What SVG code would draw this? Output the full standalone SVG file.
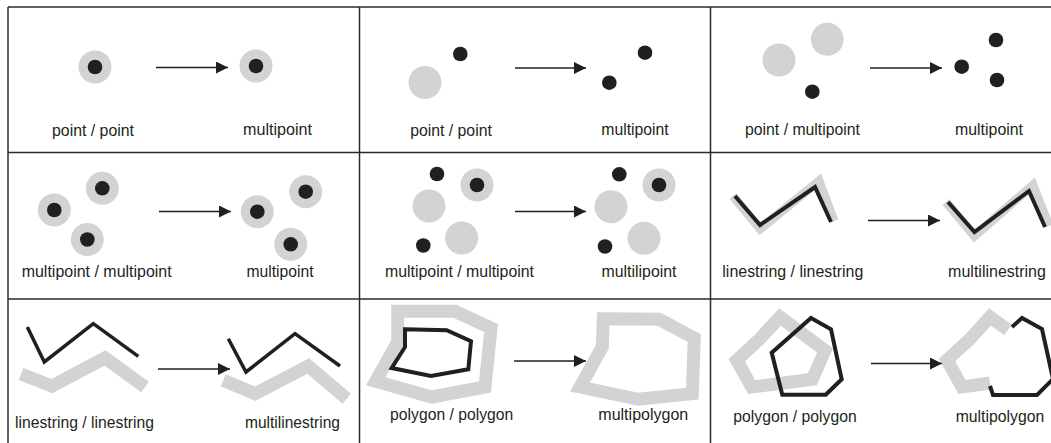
<svg xmlns="http://www.w3.org/2000/svg" width="1051" height="443" viewBox="0 0 1051 443">
<defs>
<style>
.g{fill:#d1d3d4}
.k{fill:#231f20}
.gs{fill:none;stroke:#d1d3d4;stroke-linejoin:miter;stroke-linecap:butt}
.ks{fill:none;stroke:#231f20;stroke-linejoin:miter;stroke-linecap:butt}
.grid{stroke:#2b2b2b;stroke-width:1.5;fill:none}
.arr{stroke:#231f20;stroke-width:1.3;fill:none;marker-end:url(#ah)}
text{font-family:"Liberation Sans",Arial,sans-serif;font-size:17px;fill:#231f20;text-anchor:middle}
</style>
<marker id="ah" markerUnits="userSpaceOnUse" markerWidth="13" markerHeight="13" refX="12" refY="6" orient="auto">
<path d="M0,0 L12,6 L0,12 z" fill="#231f20"/>
</marker>
</defs>
<rect width="1051" height="443" fill="#fff"/>
<g id="grid" class="grid">
<line x1="8" y1="7" x2="1051" y2="7"/>
<line x1="8" y1="152.5" x2="1051" y2="152.5"/>
<line x1="8" y1="299" x2="1051" y2="299"/>
<line x1="8" y1="7" x2="8" y2="443"/>
<line x1="359.5" y1="7" x2="359.5" y2="443"/>
<line x1="710.5" y1="7" x2="710.5" y2="443"/>
</g>
<g id="cell1">
<circle class="g" cx="95" cy="67" r="16.5"/><circle class="k" cx="95" cy="67" r="7.3"/>
<circle class="g" cx="256" cy="66" r="16.5"/><circle class="k" cx="256" cy="66" r="7.3"/>
<text x="93" y="136" textLength="82" lengthAdjust="spacingAndGlyphs">point / point</text>
<text x="277.5" y="135" textLength="69" lengthAdjust="spacingAndGlyphs">multipoint</text>
</g>
<g id="cell2">
<circle class="g" cx="425" cy="82.5" r="16.5"/>
<circle class="k" cx="460.3" cy="54" r="7.3"/>
<circle class="k" cx="645" cy="52.7" r="7.3"/>
<circle class="k" cx="609.3" cy="82.7" r="7.3"/>
<text x="451" y="136" textLength="81.7" lengthAdjust="spacingAndGlyphs">point / point</text>
<text x="635" y="135" textLength="67.5" lengthAdjust="spacingAndGlyphs">multipoint</text>
</g>
<g id="cell3">
<circle class="g" cx="779" cy="60" r="16.5"/>
<circle class="g" cx="827.3" cy="39.3" r="16.5"/>
<circle class="k" cx="812.3" cy="91.7" r="7.3"/>
<circle class="k" cx="961.7" cy="66.7" r="7.3"/>
<circle class="k" cx="996" cy="40" r="7.3"/>
<circle class="k" cx="997" cy="80" r="7.3"/>
<text x="802.5" y="135" textLength="115" lengthAdjust="spacingAndGlyphs">point / multipoint</text>
<text x="989" y="135" textLength="68" lengthAdjust="spacingAndGlyphs">multipoint</text>
</g>
<g id="cell4">
<circle class="g" cx="54.3" cy="210" r="16.5"/><circle class="k" cx="54.3" cy="210" r="7.3"/>
<circle class="g" cx="102.3" cy="188.3" r="16.5"/><circle class="k" cx="102.3" cy="188.3" r="7.3"/>
<circle class="g" cx="87.3" cy="239.5" r="16.5"/><circle class="k" cx="87.3" cy="239.5" r="7.3"/>
<circle class="g" cx="257.3" cy="211.7" r="16.5"/><circle class="k" cx="257.3" cy="211.7" r="7.3"/>
<circle class="g" cx="305.7" cy="191.7" r="16.5"/><circle class="k" cx="305.7" cy="191.7" r="7.3"/>
<circle class="g" cx="290.7" cy="244.3" r="16.5"/><circle class="k" cx="290.7" cy="244.3" r="7.3"/>
<text x="96.7" y="277" textLength="150" lengthAdjust="spacingAndGlyphs">multipoint / multipoint</text>
<text x="280" y="277" textLength="67" lengthAdjust="spacingAndGlyphs">multipoint</text>
</g>
<g id="cell5">
<circle class="k" cx="437" cy="174" r="7.3"/>
<circle class="g" cx="477" cy="185" r="16.5"/><circle class="k" cx="477" cy="185" r="7.3"/>
<circle class="g" cx="429" cy="206" r="16.5"/>
<circle class="g" cx="461.7" cy="238" r="16.5"/>
<circle class="k" cx="423.3" cy="245.5" r="7.3"/>
<circle class="k" cx="619.3" cy="174.3" r="7.3"/>
<circle class="g" cx="659" cy="185" r="16.5"/><circle class="k" cx="659" cy="185" r="7.3"/>
<circle class="g" cx="611" cy="206.7" r="16.5"/>
<circle class="g" cx="644" cy="238.3" r="16.5"/>
<circle class="k" cx="605" cy="246.5" r="7.3"/>
<text x="459.5" y="277" textLength="149" lengthAdjust="spacingAndGlyphs">multipoint / multipoint</text>
<text x="639" y="277" textLength="75" lengthAdjust="spacingAndGlyphs">multilipoint</text>
</g>
<g id="cell6">
<polyline class="gs" stroke-width="9" points="733,196 760,229 819,181 834,221"/>
<polyline class="ks" stroke-width="4" points="735,196 760,225 815,187 831,222"/>
<polyline class="gs" stroke-width="9" points="946,202 974.5,236 1033,185 1049,226"/>
<polyline class="ks" stroke-width="4" points="948,202 974.5,232 1029,191 1045,227"/>
<text x="792.8" y="277" textLength="141" lengthAdjust="spacingAndGlyphs">linestring / linestring</text>
<text x="997" y="277" style="font-size:16px">multilinestring</text>
</g>
<g id="cell7">
<polyline class="gs" stroke-width="13" points="21,374 52,386 105,358 145,387"/>
<polyline class="ks" stroke-width="3.5" points="27.3,327 44.3,362 93.3,323.7 138.3,356.3"/>
<polyline class="gs" stroke-width="13" points="223.3,380.3 255,393.7 308.3,366 346.7,398.7"/>
<polyline class="ks" stroke-width="3.5" points="228.3,338.7 246,372 295,333.7 340,366"/>
<text x="84.5" y="428" textLength="139" lengthAdjust="spacingAndGlyphs">linestring / linestring</text>
<text x="292.5" y="428" textLength="95" lengthAdjust="spacingAndGlyphs">multilinestring</text>
</g>
<g id="cell8">
<polygon class="gs" stroke-width="13" points="397.7,311.3 455,311.3 491,328 485,387 431.7,397 375.7,381.3 397.7,342"/>
<polygon class="ks" stroke-width="4" points="405,329.3 446.7,330.3 471,341.3 468.3,369.3 431,376 391.7,368 405,347"/>
<polygon class="gs" stroke-width="13" points="603.3,318.7 659,319.3 694.3,338 692.3,393.7 638.3,399.3 580,387 602.3,347"/>
<text x="451.7" y="420" textLength="123.3" lengthAdjust="spacingAndGlyphs">polygon / polygon</text>
<text x="643.3" y="420" textLength="90" lengthAdjust="spacingAndGlyphs">multipolygon</text>
</g>
<g id="cell9">
<polygon class="gs" stroke-width="13" points="780,317 825,350.3 812.3,379.3 751.7,387 736.7,360.3 760,338.7"/>
<polygon class="ks" stroke-width="4" points="811,318 831,329.3 841.7,379.3 825.7,394.7 782.3,394.7 771.7,352.7"/>
<polyline class="gs" stroke-width="13" points="1008,330 990,317 970,339 947,360 962,387 990,383"/>
<polyline class="ks" stroke-width="4" points="1012,327 1022,318 1042,329 1053,379 1037,395 993,395 990,386"/>
<text x="795" y="422" textLength="123.3" lengthAdjust="spacingAndGlyphs">polygon / polygon</text>
<text x="1000" y="422" textLength="88.6" lengthAdjust="spacingAndGlyphs">multipolygon</text>
</g>
<g id="connectors">
<line class="arr" x1="156" y1="67.5" x2="228" y2="67.5"/>
<line class="arr" x1="515" y1="68" x2="586" y2="68"/>
<line class="arr" x1="870" y1="68" x2="942" y2="68"/>
<line class="arr" x1="159" y1="211.5" x2="231" y2="211.5"/>
<line class="arr" x1="515" y1="211.5" x2="586" y2="211.5"/>
<line class="arr" x1="868" y1="220.5" x2="940" y2="220.5"/>
<line class="arr" x1="158" y1="369" x2="230" y2="369"/>
<line class="arr" x1="514" y1="361" x2="586" y2="361"/>
<line class="arr" x1="871" y1="363.5" x2="942" y2="363.5"/>
</g>
</svg>
